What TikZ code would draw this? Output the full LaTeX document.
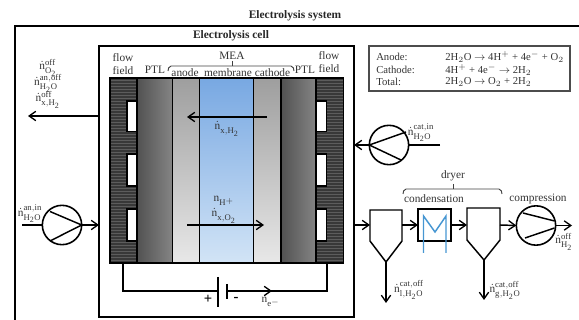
\documentclass[tikz,border=0pt]{standalone}
\usepackage{fontspec}
\setmainfont{Liberation Serif}
\usetikzlibrary{arrows.meta,fit}
\DeclareMathSizes{8.5}{8.5}{6.5}{6}
\definecolor{txt}{gray}{0.2}
\tikzset{
  x=0.75pt,y=-0.75pt,
  line/.style={line width=1.1pt,black},
  thin line/.style={line width=0.8pt,black},
  arr/.style={line,-{Straight Barb[length=5pt,width=7pt,line width=1pt]}},
  rbox/.style={inner sep=0pt,outer sep=0pt,line width=1.1pt,draw=black},
  lab/.style={inner sep=0pt,text=txt,font=\fontsize{8.5}{10}\selectfont},
  eqlab/.style={inner sep=0pt,text=txt,font=\fontsize{8}{9}\selectfont},
  flowlab/.style={lab,font=\fontsize{8.5}{10}\selectfont},
  ptl/.style={rbox,left color=black!68,right color=black!48},
  cl/.style={rbox,top color=black!38,bottom color=black!9},
  mem/.style={rbox,top color={rgb,255:red,120;green,168;blue,226},bottom color={rgb,255:red,210;green,228;blue,246}},
  ff/.style={rbox,fill=black!78},
  slot/.style={rbox,fill=white,line width=1pt},
  pump/.style={circle,draw=black,line width=1.2pt,fill=white,inner sep=0pt,outer sep=0pt},
  sep/.style={line width=1.1pt,draw=black,fill=white,line join=miter},
}
\newcommand{\ndot}[2]{$\dot{\mathrm{n}}^{\mathrm{#1}}_{\mathrm{#2}}$}
\newcommand{\bx}[6]{\node[#6,fit={(#2,#3)(#4,#5)}] (#1) {};}
\begin{document}
\begin{tikzpicture}
\useasboundingbox (0,0) rectangle (579,320);
% frames
\coordinate (sysA) at (15,320);
\coordinate (sysB) at (15,26);
\coordinate (sysC) at (579,26);
\draw[line,line width=1.2pt] (sysA) -- (sysB) -- (sysC);
\bx{cell}{99}{46}{354}{317}{rbox}
\node[lab,font=\bfseries\fontsize{8.6}{10}\selectfont,text=black!85] (tsys) at (295,16) {Electrolysis system};
\node[lab,font=\bfseries\fontsize{8.6}{10}\selectfont,text=black!85] (tcell) at (231,36) {Electrolysis cell};
% layers
\bx{ffL}{110}{78}{137}{263}{ff}
\bx{ptlL}{137}{78}{172.5}{263}{ptl}
\bx{an}{172.5}{78}{199.5}{263}{cl}
\bx{memb}{199.5}{78}{253.5}{263}{mem}
\bx{cat}{253.5}{78}{281}{263}{cl}
\bx{ptlR}{281}{78}{316}{263}{ptl}
\bx{ffR}{316}{78}{343.5}{263}{ff}
\foreach \yy in {80,83,...,262}{
  \draw[black!64,line width=0.5pt] (111,\yy) -- (136,\yy);
  \draw[black!64,line width=0.5pt] (317,\yy) -- (343,\yy);
}
\draw[line,line width=1.1pt] (ffL.north west) rectangle (ffL.south east);
\draw[line,line width=1.1pt] (ffR.north west) rectangle (ffR.south east);
\foreach \n/\a/\b in {1/101/131.5,2/154/186,3/209/241}{
  \bx{sL\n}{127}{\a}{137}{\b}{slot}
  \bx{sR\n}{316.5}{\a}{326.5}{\b}{slot}
}
% layer labels
\node[lab] (ff1a) at (123,58) {flow};
\node[lab] (ff1b) at (123,71) {field};
\node[lab] (ptl1) at (155,70) {PTL};
\node[lab] (lan) at (185,72.5) {anode};
\node[lab] (lme) at (228,72.5) {membrane};
\node[lab] (lca) at (272.5,72.5) {cathode};
\node[lab] (ptl2) at (305,70) {PTL};
\node[lab] (ff2a) at (329,56) {flow};
\node[lab] (ff2b) at (329,69) {field};
\node[lab] (mea) at (232,56) {MEA};
\draw[black!75,line width=0.7pt,rounded corners=1.5pt] (168,71) -- (169,66) -- (293,66) -- (294,71);
\draw[black!75,line width=0.7pt] (232,61) -- (232,66);
% left outlet
\coordinate (outL) at (28,116);
\draw[arr] (cell.west |- outL) -- (outL);
\node[flowlab] (l1) at (48,68) {\ndot{off}{O_2}};
\node[flowlab] (l2) at (48,83) {\ndot{an,off}{H_2O}};
\node[flowlab] (l3) at (48,100) {\ndot{off}{x,H_2}};
% internal arrows
\coordinate (iA) at (267,117);
\coordinate (iB) at (187,117);
\draw[arr] (iA) -- (iB);
\coordinate (iC) at (187,225);
\coordinate (iD) at (264,225);
\draw[arr] (iC) -- (iD);
\node[flowlab] (l4) at (227,129) {\ndot{}{x,H_2}};
\node[flowlab] (l5) at (224,201) {$\mathrm{n}_{\mathrm{H^+}}$};
\node[flowlab] (l6) at (224,216) {\ndot{}{x,O_2}};
% anode pump
\node[pump,minimum size=29.5pt] (p1) at (62,225) {};
\coordinate (inA) at (22,225);
\draw[line] (inA) -- (p1.west);
\draw[arr] (p1.east) -- (cell.west |- p1.east);
\draw[line] (p1.east) -- (50,211.5) (p1.east) -- (50,241);
\node[flowlab] (l7) at (30,214) {\ndot{an,in}{H_2O}};
% cathode pump
\node[pump,minimum size=29.5pt] (p2) at (389,145) {};
\coordinate (inC) at (440,145);
\draw[line] (inC) -- (p2.east);
\draw[arr] (p2.west) -- (cell.east |- p2.west);
\draw[line] (p2.west) -- (406,132) (p2.west) -- (401,160);
\node[flowlab] (l8) at (421,133) {\ndot{cat,in}{H_2O}};
% circuit
\coordinate (w1) at (123,291);
\coordinate (w2) at (218,291);
\coordinate (w3) at (227,291);
\coordinate (w4) at (327,291);
\coordinate (wm) at (272,291);
\draw[thin line] (ffL.south -| w1) -- (w1) -- (w2);
\draw[thin line] (w3) -- (w4) -- (ffR.south -| w4);
\draw[arr,line width=0.8pt] (w3) -- (wm);
\coordinate (b1) at (218,277);
\coordinate (b2) at (218,307);
\coordinate (b3) at (227,284);
\coordinate (b4) at (227,299);
\draw[thin line] (b1) -- (b2);
\draw[line] (b3) -- (b4);
\node[lab,text=black,font=\bfseries\fontsize{11}{12}\selectfont] (plus) at (208,299) {+};
\node[lab,text=black,font=\bfseries\fontsize{11}{12}\selectfont] (minus) at (236,299) {-};
\node[flowlab] (l9) at (271,302) {$\mathrm{n}_{\mathrm{e^-}}$};
% reactions box
\bx{eq}{369}{46}{570}{91}{rbox,draw=black!70,line width=0.9pt}
\foreach \yy/\aa/\bb/\nn in {
  57/Anode:/{2H$_2$O $\rightarrow$ 4H$^+$ + 4e$^-$ + O$_2$}/a,
  70/Cathode:/{4H$^+$ + 4e$^-$ $\rightarrow$ 2H$_2$}/b,
  82/Total:/{2H$_2$O $\rightarrow$ O$_2$ + 2H$_2$}/c}{
  \node[eqlab,anchor=west] (eqL\nn) at (376,\yy) {\aa};
  \node[eqlab,anchor=west] (eqR\nn) at (445,\yy) {\bb};
}
% separator 1
\coordinate (s1a) at (370,210);
\coordinate (s1b) at (402,210);
\coordinate (s1c) at (402,241);
\coordinate (s1t) at (386,262);
\coordinate (s1d) at (370,241);
\draw[sep] (s1a) -- (s1b) -- (s1c) -- (s1t) -- (s1d) -- cycle;
\coordinate (s1w) at (370,225);
\coordinate (s1e) at (402,225);
\coordinate (s1o) at (386,303);
\draw[arr] (cell.east |- s1w) -- (s1w);
\draw[arr] (s1t) -- (s1o);
\node[flowlab] (l10) at (409,290) {\ndot{cat,off}{l,H_2O}};
% condenser
\bx{hx}{418}{209}{451}{241}{rbox,line width=1.4pt}
\draw[arr] (s1e) -- (hx.west);
\coordinate (h1) at (423.5,253);
\coordinate (h2) at (423.5,216);
\coordinate (h3) at (435,232);
\coordinate (h4) at (446,216);
\coordinate (h5) at (446,253);
\draw[line width=1.1pt,color={rgb,255:red,70;green,150;blue,210}] (h1) -- (h2) -- (h3) -- (h4) -- (h5);
% separator 2
\coordinate (s2a) at (467,208);
\coordinate (s2b) at (500,208);
\coordinate (s2c) at (500,240);
\coordinate (s2t) at (484,260);
\coordinate (s2d) at (467,240);
\draw[sep] (s2a) -- (s2b) -- (s2c) -- (s2t) -- (s2d) -- cycle;
\coordinate (s2w) at (467,225);
\coordinate (s2e) at (500,225);
\coordinate (s2o) at (484,300);
\draw[arr] (hx.east) -- (s2w);
\draw[arr] (s2t) -- (s2o);
\node[flowlab] (l11) at (505,290) {\ndot{cat,off}{g,H_2O}};
% compressor
\node[pump,minimum size=29.5pt] (p3) at (536,225.5) {};
\draw[arr] (s2e) -- (p3.west);
\coordinate (outR) at (572,225.5);
\draw[arr] (p3.east) -- (outR);
\draw[line] (523,213) -- (554.5,221) (525,238) -- (554.5,228);
\node[flowlab] (l12) at (564,242) {\ndot{off}{H_2}};
% brace
\draw[black!75,line width=0.7pt,rounded corners=1.5pt] (403,194) -- (404,189) -- (501,189) -- (502,194);
\draw[black!75,line width=0.7pt] (453,184) -- (453,189);
\node[lab] (dry) at (453,176) {dryer};
\node[lab] (cond) at (434,199) {condensation};
\node[lab] (comp) at (538,199) {compression};
\end{tikzpicture}
\end{document}
